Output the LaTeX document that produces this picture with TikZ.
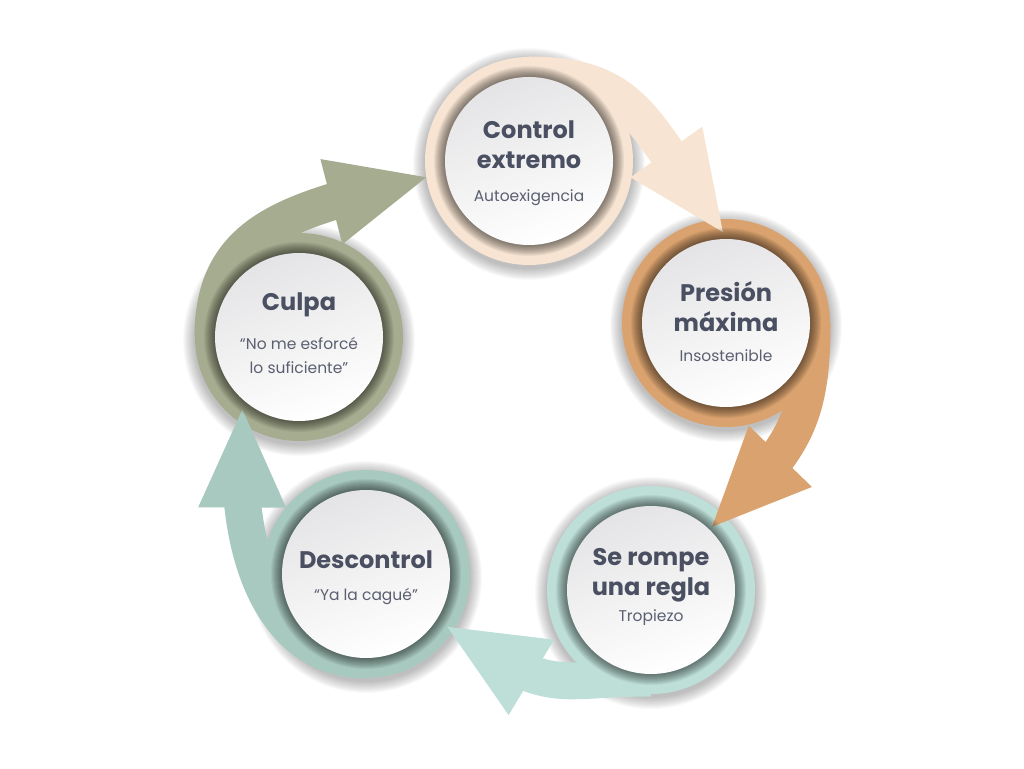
\documentclass[tikz,border=0pt]{standalone}
\usepackage{fontspec}
\setmainfont{Poppins}
\usetikzlibrary{arrows.meta,bending,calc,positioning}
\definecolor{peach}{HTML}{F7E4D2}
\definecolor{amber}{HTML}{D9A26E}
\definecolor{mint}{HTML}{BDDFD7}
\definecolor{sage}{HTML}{A8C9BF}
\definecolor{olive}{HTML}{A6AC8F}
\definecolor{ink}{HTML}{4B4F62}
\definecolor{inksoft}{HTML}{5B5F70}
\definecolor{discgray}{HTML}{E4E4E6}

\begin{document}
\begin{tikzpicture}[x=1pt,y=1pt,
  ring/.style={circle,minimum size=208pt,inner sep=0pt,fill=#1},
  ttl/.style={font=\fontsize{24}{30}\selectfont\bfseries,text=ink,align=center,inner sep=0pt},
  sub/.style={font=\fontsize{15.5}{24}\selectfont,text=inksoft,align=center,inner sep=0pt},
  arr/.style={draw=#1,line width=37pt,-{Triangle[length=98pt,width=88pt,line width=0pt,flex]}}]
\useasboundingbox (0,0) rectangle (1024,768);
% soft halo behind each ring
\foreach \x/\y in {529/607,726/445,651/178,366/194,299/431}
  \foreach \r in {105,...,116}
    \fill[black,opacity=0.022] (\x,\y-3) circle (\r);
% coloured rings
\node[ring=peach] (ctl) at (529,607) {};
\node[ring=amber] (pre) at (726,445) {};
\node[ring=mint] (rom) at (651,178) {};
\node[ring=sage] (des) at (366,194) {};
\node[ring=olive] (cul) at (299,431) {};
% arrow ends
\coordinate (s1) at ($(ctl)+(90:86)$);
\coordinate (t1) at ($(pre)+(92:91)$);
\coordinate (s2) at ($(pre)+(0:86)$);
\coordinate (t2) at ($(rom)+(46:88)$);
\coordinate (s3) at ($(rom)+(-90:88)$);
\coordinate (t3) at ($(des)+(-33:97)$);
\coordinate (s4) at ($(des)+(-90:86)$);
\coordinate (t4) at ($(cul)+(232:92)$);
\coordinate (s5) at ($(cul)+(180:86)$);
\coordinate (t5) at ($(ctl)+(189:104)$);
% cycle arrows
\draw[arr=peach] (s1) .. controls +(110,0) and +(-80,105) .. (t1);
\draw[arr=amber] (s2) .. controls +(0,-100) and +(80,76) .. (t2);
\draw[arr=mint] (s3) .. controls +(-100,0) and +(108,-72) .. (t3);
\draw[arr=sage] (s4) .. controls +(-90,0) and +(-13,-150) .. (t4);
\draw[arr=olive] (s5) .. controls +(0,110) and +(-132,-32) .. (t5);
% inner shadow and white face
\foreach \n in {ctl,pre,rom,des,cul} {
  \foreach \r in {85,...,95}
    \fill[black,opacity=0.05] (\n) circle (\r);
  \shade[top color=discgray,bottom color=white,shading angle=20] (\n) circle (84);
}
% labels
\node[ttl] (ctlT) at ([yshift=16]ctl) {Control\\extremo};
\node[sub] (ctlS) at ([yshift=-37]ctl) {Autoexigencia};
\node[ttl] (preT) at ([yshift=16]pre) {Presión\\máxima};
\node[sub] (preS) at ([yshift=-33]pre) {Insostenible};
\node[ttl] (romT) at ([yshift=15]rom) {Se rompe\\una regla};
\node[sub] (romS) at ([yshift=-28]rom) {Tropiezo};
\node[ttl] (desT) at ([yshift=14]des) {Descontrol};
\node[sub] (desS) at ([yshift=-23]des) {“Ya la cagué”};
\node[ttl] (culT) at ([yshift=32]cul) {Culpa};
\node[sub] (culS) at ([yshift=-19]cul) {“No me esforcé\\lo suficiente”};
\end{tikzpicture}
\end{document}
